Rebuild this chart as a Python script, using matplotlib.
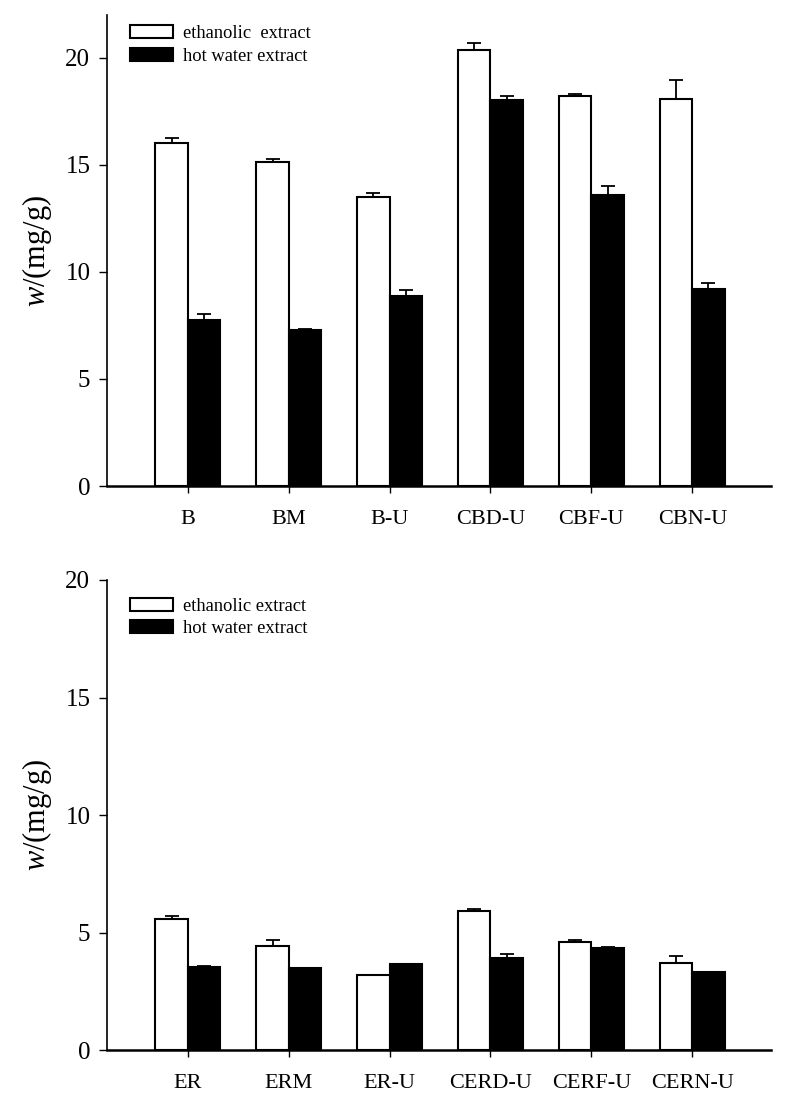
import matplotlib
matplotlib.use("Agg")
import matplotlib.pyplot as plt
import numpy as np

# 数据
groups_top = ["B", "BM", "B-U", "CBD-U", "CBF-U", "CBN-U"]
eth_top = [16.02, 15.15, 13.49, 20.36, 18.21, 18.06]
eth_top_err = [0.22, 0.14, 0.18, 0.33, 0.12, 0.92]
hot_top = [7.77, 7.30, 8.89, 18.03, 13.57, 9.20]
hot_top_err = [0.28, 0.04, 0.26, 0.17, 0.43, 0.28]

groups_bot = ["ER", "ERM", "ER-U", "CERD-U", "CERF-U", "CERN-U"]
eth_bot = [5.57, 4.44, 3.19, 5.90, 4.58, 3.72]
eth_bot_err = [0.12, 0.24, 0.02, 0.08, 0.11, 0.27]
hot_bot = [3.54, 3.48, 3.65, 3.93, 4.35, 3.31]
hot_bot_err = [0.03, 0.03, 0.03, 0.16, 0.03, 0.02]

plt.rcParams['font.family'] = ['Liberation Serif', 'DejaVu Serif']
plt.rcParams['mathtext.fontset'] = 'custom'
plt.rcParams['mathtext.rm'] = 'Liberation Serif'
plt.rcParams['mathtext.it'] = 'Liberation Serif:italic'

fig = plt.figure(figsize=(7.94, 11.16), dpi=100)
ax1 = fig.add_axes([0.1348, 0.5645, 0.8362, 0.4221])
ax2 = fig.add_axes([0.1348, 0.0591, 0.8362, 0.4212])

bw = 0.32


def draw_panel(ax, groups, eth, eth_err, hot, hot_err, ymax, eth_label, leg_y):
    x = np.arange(len(groups))
    ax.bar(x - bw / 2, eth, bw, color="white", edgecolor="black", linewidth=1.5,
           label=eth_label, zorder=2)
    ax.bar(x + bw / 2, hot, bw, color="black", edgecolor="black", linewidth=1.5,
           label="hot water extract", zorder=2)
    ax.errorbar(x - bw / 2, eth, yerr=[np.zeros(len(eth)), eth_err], fmt="none",
                ecolor="black", elinewidth=1.3, capsize=5, capthick=1.3, zorder=1)
    ax.errorbar(x + bw / 2, hot, yerr=[np.zeros(len(hot)), hot_err], fmt="none",
                ecolor="black", elinewidth=1.3, capsize=5, capthick=1.3, zorder=1)

    ax.set_xlim(-0.8, 5.78)
    ax.set_ylim(0, ymax)
    ax.set_yticks([0, 5, 10, 15, 20])
    ax.set_xticks(x)
    ax.set_xticklabels(groups)
    ax.tick_params(axis="y", direction="out", length=6, width=1, labelsize=18, pad=6)
    ax.tick_params(axis="x", direction="out", length=5, width=1, labelsize=16, pad=12)
    for s in ["top", "right"]:
        ax.spines[s].set_visible(False)
    ax.spines["left"].set_linewidth(1.2)
    ax.spines["bottom"].set_linewidth(1.8)

    ax.set_ylabel(r"$\mathit{w}$/(mg/g)", fontsize=22, labelpad=8)
    ax.legend(loc="upper left", bbox_to_anchor=(0.035, leg_y), frameon=False,
              fontsize=13.3, handlelength=2.3, handleheight=0.7,
              handletextpad=0.55, labelspacing=0.3, borderpad=0, borderaxespad=0)


draw_panel(ax1, groups_top, eth_top, eth_top_err, hot_top, hot_top_err, 22,
           "ethanolic  extract", 0.978)
draw_panel(ax2, groups_bot, eth_bot, eth_bot_err, hot_bot, hot_bot_err, 20,
           "ethanolic extract", 0.962)

fig.savefig("out.png", dpi=100)
